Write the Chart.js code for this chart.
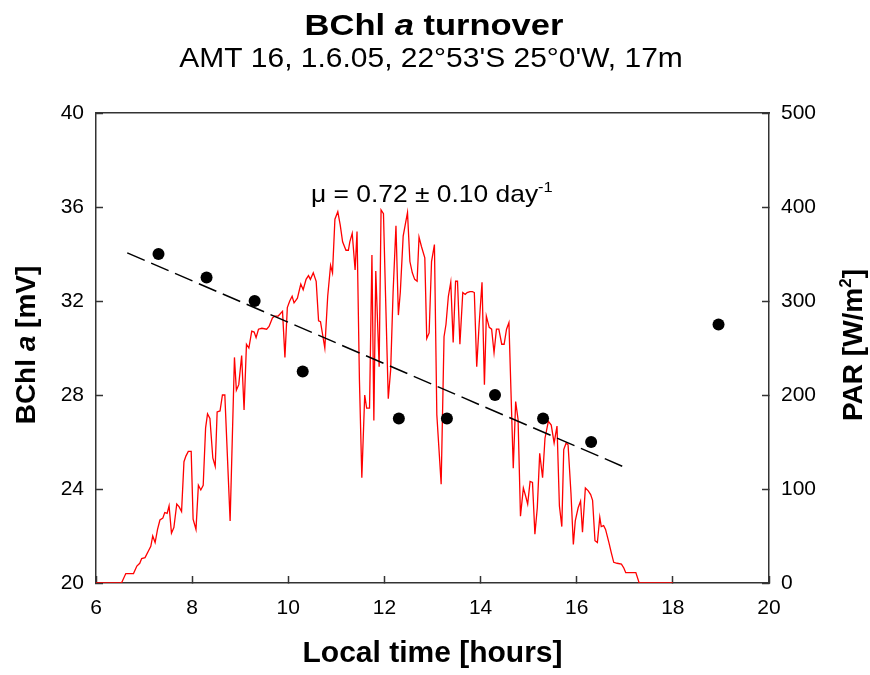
<!DOCTYPE html>
<html lang="en">
<head>
  <meta charset="UTF-8">
  <title>BChl a turnover</title>
  <script src="https://cdn.jsdelivr.net/npm/chart.js"></script>
  <style>
    html, body {
      margin: 0;
      padding: 0;
      background: #fff;
    }
  </style>
</head>
<body>
  <canvas id="turnoverChart" width="870" height="675"></canvas>

  <script>
    // PAR trace (right axis, W/m2)
    const parTime = [
      6.0, 6.53, 6.62, 6.78, 6.85, 6.91, 6.95, 7.02, 7.09, 7.14, 7.18, 7.23, 7.28, 7.33, 7.39, 7.43,
      7.48, 7.52, 7.57, 7.62, 7.68, 7.73, 7.78, 7.83, 7.87, 7.92, 7.98, 8.02, 8.08, 8.13, 8.18, 8.23,
      8.28, 8.32, 8.37, 8.43, 8.48, 8.52, 8.58, 8.63, 8.68, 8.79, 8.88, 8.92, 8.97, 9.03, 9.08, 9.13,
      9.18, 9.24, 9.29, 9.33, 9.38, 9.45, 9.55, 9.60, 9.67, 9.72, 9.79, 9.88, 9.93, 9.98, 10.03, 10.08,
      10.12, 10.19, 10.26, 10.31, 10.37, 10.42, 10.46, 10.52, 10.58, 10.63, 10.67, 10.76, 10.82, 10.88,
      10.92, 10.97, 11.03, 11.08, 11.13, 11.20, 11.25, 11.28, 11.33, 11.39, 11.43, 11.48, 11.53, 11.59,
      11.63, 11.69, 11.74, 11.78, 11.82, 11.89, 11.93, 11.98, 12.02, 12.08, 12.13, 12.18, 12.24, 12.29,
      12.33, 12.39, 12.44, 12.48, 12.53, 12.58, 12.63, 12.68, 12.72, 12.77, 12.84, 12.88, 12.93, 12.98,
      13.04, 13.09, 13.18, 13.24, 13.28, 13.33, 13.38, 13.43, 13.48, 13.52, 13.57, 13.63, 13.68, 13.72,
      13.78, 13.83, 13.87, 13.92, 13.97, 14.03, 14.08, 14.12, 14.18, 14.23, 14.28, 14.33, 14.38, 14.44,
      14.49, 14.54, 14.59, 14.68, 14.73, 14.78, 14.83, 14.89, 14.94, 14.98, 15.03, 15.08, 15.13, 15.18,
      15.23, 15.29, 15.34, 15.41, 15.47, 15.53, 15.59, 15.64, 15.69, 15.73, 15.78, 15.82, 15.88, 15.93,
      15.97, 16.03, 16.08, 16.12, 16.18, 16.24, 16.29, 16.33, 16.38, 16.43, 16.48, 16.51, 16.56, 16.60,
      16.67, 16.72, 16.77, 16.84, 16.93, 16.98, 17.02, 17.10, 17.23, 17.30, 18.0
    ];
    const parValues = [
      0, 0, 10, 10, 18, 21, 26, 27, 34, 39, 50, 43, 57, 67, 69, 75,
      74, 82, 53, 59, 84, 81, 76, 129, 135, 140, 140, 68, 57, 104, 99, 104,
      165, 180, 175, 133, 124, 182, 183, 200, 200, 66, 240, 205, 211, 242, 184, 254,
      250, 268, 267, 261, 270, 271, 270, 273, 282, 284, 284, 289, 240, 293, 300, 305,
      298, 303, 318, 312, 323, 327, 323, 330, 321, 279, 278, 250, 305, 338,
      330, 387, 395, 381, 363, 354, 354, 363, 372, 333, 374, 216, 112, 200,
      186, 186, 349, 173, 332, 230, 397, 393, 312, 196, 227, 309, 380, 285,
      309, 369, 383, 394, 342, 330, 323, 321, 368, 358, 346, 260, 266, 342,
      360, 179, 105, 262, 275, 305, 320, 256, 321, 321, 254, 309, 307, 309,
      310, 310, 309, 230, 275, 320, 211, 284, 272, 270, 245, 270, 270, 254,
      254, 270, 277, 122, 193, 174, 71, 101, 92, 84, 108, 107, 52, 80,
      138, 112, 154, 172, 168, 149, 167, 82, 60, 142, 149, 147, 96, 41,
      66, 80, 87, 54, 101, 98, 94, 88, 45, 43, 70, 60, 61, 57,
      43, 32, 22, 21, 20, 16, 11, 11, 11, 0, 0
    ];

    // BChl a samples (left axis, mV)
    const bchlTime = [7.3, 8.3, 9.3, 10.3, 12.3, 13.3, 14.3, 15.3, 16.3, 18.95];
    const bchlValues = [34, 33, 32, 29, 27, 27, 28, 27, 26, 31];

    // fitted decline
    const fitTime = [6.65, 16.97];
    const fitValues = [34.05, 24.95];

    const toPoints = (xs, ys) => xs.map((x, i) => ({ x: x, y: ys[i] }));

    const FONT = '"Liberation Sans", Arial, sans-serif';
    const frameColor = '#333';

    // draws a row of text pieces with different fonts, sx = horizontal stretch
    function drawRuns(ctx, runs, x, y, align, sx) {
      sx = sx || 1;
      let total = 0;
      runs.forEach(r => {
        ctx.font = r.font;
        r.w = ctx.measureText(r.text).width;
        total += r.w;
      });
      const start = align === 'center' ? x - total * sx / 2 : x;
      ctx.save();
      ctx.translate(start, y);
      ctx.scale(sx, 1);
      let cx = 0;
      runs.forEach(r => {
        ctx.font = r.font;
        ctx.fillText(r.text, cx, r.dy || 0);
        cx += r.w;
      });
      ctx.restore();
    }

    const textPlugin = {
      id: 'textPlugin',
      afterDraw(chart) {
        const ctx = chart.ctx;
        ctx.save();
        ctx.fillStyle = '#000';
        ctx.textBaseline = 'alphabetic';
        ctx.textAlign = 'left';

        drawRuns(ctx, [
          { text: 'BChl ', font: 'bold 30px ' + FONT },
          { text: 'a', font: 'italic bold 30px ' + FONT },
          { text: ' turnover', font: 'bold 30px ' + FONT }
        ], 434, 35, 'center', 1.15);

        drawRuns(ctx, [
          { text: "AMT 16, 1.6.05, 22°53'S 25°0'W, 17m", font: '27px ' + FONT }
        ], 431, 67, 'center', 1.11);

        drawRuns(ctx, [
          { text: 'μ = 0.72 ± 0.10 day', font: '24px ' + FONT },
          { text: '-1', font: '15px ' + FONT, dy: -10 }
        ], 311, 202, 'left', 1.1);

        // left axis title
        ctx.save();
        ctx.translate(35, 345);
        ctx.rotate(-Math.PI / 2);
        drawRuns(ctx, [
          { text: 'BChl ', font: 'bold 28px ' + FONT },
          { text: 'a', font: 'italic bold 28px ' + FONT },
          { text: ' [mV]', font: 'bold 28px ' + FONT }
        ], 0, 0, 'center');
        ctx.restore();

        // right axis title
        ctx.save();
        ctx.translate(862, 345);
        ctx.rotate(-Math.PI / 2);
        drawRuns(ctx, [
          { text: 'PAR [W/m', font: 'bold 28px ' + FONT },
          { text: '2', font: 'bold 17px ' + FONT, dy: -11 },
          { text: ']', font: 'bold 28px ' + FONT }
        ], 0, 0, 'center');
        ctx.restore();

        ctx.restore();
      }
    };

    const tickFont = { family: FONT, size: 21 };
    const gridOpts = { drawOnChartArea: false, tickLength: -7, color: frameColor, tickWidth: 1.5 };
    const borderOpts = { color: frameColor, width: 1.5 };

    const ctx = document.getElementById('turnoverChart').getContext('2d');

    new Chart(ctx, {
      type: 'scatter',
      data: {
        datasets: [
          {
            label: 'BChl a',
            data: toPoints(bchlTime, bchlValues),
            yAxisID: 'y',
            backgroundColor: '#000',
            borderColor: '#000',
            borderWidth: 0,
            pointRadius: 6,
            order: 0
          },
          {
            type: 'line',
            label: 'fit',
            data: toPoints(fitTime, fitValues),
            yAxisID: 'y',
            borderColor: '#000',
            borderWidth: 1.5,
            borderDash: [19, 7],
            pointRadius: 0,
            fill: false,
            order: 1
          },
          {
            type: 'line',
            label: 'PAR',
            data: toPoints(parTime, parValues),
            yAxisID: 'y2',
            borderColor: '#ff0000',
            borderWidth: 1.3,
            pointRadius: 0,
            tension: 0,
            fill: false,
            order: 2
          }
        ]
      },
      options: {
        responsive: false,
        animation: false,
        layout: { padding: { top: 113, left: 0, right: 0, bottom: 0 } },
        plugins: {
          legend: { display: false },
          tooltip: { enabled: false }
        },
        scales: {
          x: {
            type: 'linear',
            position: 'bottom',
            min: 6,
            max: 20,
            ticks: { stepSize: 2, font: tickFont, color: '#000', padding: 20, maxRotation: 0 },
            grid: gridOpts,
            border: borderOpts,
            title: {
              display: true,
              text: 'Local time [hours]',
              color: '#000',
              font: { family: FONT, size: 30, weight: 'bold' },
              padding: { top: 0, bottom: 3 }
            },
            afterFit: s => { s.height = 92; }
          },
          x2: {
            type: 'linear',
            position: 'top',
            min: 6,
            max: 20,
            ticks: { display: false },
            grid: { display: false },
            border: borderOpts,
            afterFit: s => { s.height = 0; }
          },
          y: {
            type: 'linear',
            position: 'left',
            min: 20,
            max: 40,
            ticks: { stepSize: 4, font: tickFont, color: '#000', padding: 19 },
            grid: gridOpts,
            border: borderOpts,
            afterFit: s => { s.width = 96; }
          },
          y2: {
            type: 'linear',
            position: 'right',
            min: 0,
            max: 500,
            ticks: { stepSize: 100, font: tickFont, color: '#000', padding: 19 },
            grid: gridOpts,
            border: borderOpts,
            afterFit: s => { s.width = 101; }
          }
        }
      },
      plugins: [textPlugin]
    });
  </script>
</body>
</html>
